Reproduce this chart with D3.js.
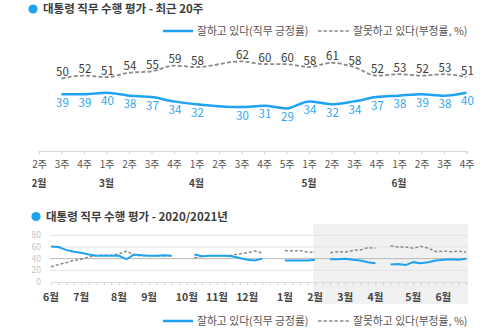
<!DOCTYPE html>
<html>
<head>
<meta charset="utf-8">
<script src="https://cdn.jsdelivr.net/npm/d3@7/dist/d3.min.js"></script>
<style>
  html, body { margin: 0; padding: 0; background: #fff; }
  svg { display: block; font-family: "Noto Sans CJK KR", "Noto Sans", sans-serif; }
</style>
</head>
<body>
<svg id="chart" width="500" height="333"></svg>
<script>
// ---- Recent 20 weeks (weekly) ----
const recentWeeks = ["2주","3주","4주","1주","2주","3주","4주","1주","2주","3주","4주","5주","1주","2주","3주","4주","1주","2주","3주","4주"];
const recentMonthLabels = ["2월","3월","4월","5월","6월"];
const recentMonthAt = [0, 3, 7, 12, 16];
const recentApprove = [null,39,39,40,38,37,34,32,null,30,31,29,34,32,34,37,38,39,38,40];
const recentDisapprove = [null,50,52,51,54,55,59,58,null,62,60,60,58,61,58,52,53,52,53,51];

// ---- 2020/2021 weekly series (null = no survey that week) ----
const yearApprove = [
  61,60,55,52,50,47,45,45,45,45,39,47,46,45,45,46,45,
  null,null,
  47,44,45,45,45,44,41,38,37,40,
  null,null,
  37,37,37,37,38,
  null,
  39,39,40,38,37,34,32,
  null,
  30,31,29,34,32,34,37,38,39,38,40
];
const yearDisapprove = [
  26,30,33,37,39,43,45,46,46,48,53,46,45,45,45,45,45,
  null,null,
  41,44,45,45,45,46,48,50,53,50,
  null,null,
  54,53,54,51,51,
  null,
  50,52,51,54,55,59,58,
  null,
  62,60,60,58,61,58,52,53,52,53,51
];
const yearMonthLabels = ["6월","7월","8월","9월","10월","11월","12월","1월","2월","3월","4월","5월","6월"];
const yearMonthAt = [0,4,9,13,18,22,26,31,35,39,43,48,52];
const yearTicks = [0,20,40,60,80];
const recentSpanStart = 35;

const titleTop = "대통령 직무 수행 평가 - 최근 20주";
const titleBottom = "대통령 직무 수행 평가 - 2020/2021년";
const legendApprove = "잘하고 있다(직무 긍정률)";
const legendDisapprove = "잘못하고 있다(부정률, %)";

const BLUE = "#1ea2f1";
const GREY = "#8a8a8a";
const TEXT = "#3c3c3c";

const svg = d3.select("#chart");

// Title with a round bullet
function title(x, y, text) {
  svg.append("circle").attr("cx", x).attr("cy", y).attr("r", 4.6).attr("fill", BLUE);
  svg.append("text").attr("x", x + 10).attr("y", y + 4.2)
    .attr("font-size", 11.5).attr("font-weight", 700).attr("fill", TEXT).text(text);
}

// Legend row: solid blue key, dashed grey key
function legend(y) {
  svg.append("line").attr("x1", 163).attr("x2", 193).attr("y1", y).attr("y2", y)
    .attr("stroke", BLUE).attr("stroke-width", 2.5);
  svg.append("text").attr("x", 197).attr("y", y + 4).attr("font-size", 10.8)
    .attr("fill", "#555").text(legendApprove);
  svg.append("line").attr("x1", 318).attr("x2", 350).attr("y1", y).attr("y2", y)
    .attr("stroke", GREY).attr("stroke-width", 1.6).attr("stroke-dasharray", "3.5,2");
  svg.append("text").attr("x", 353).attr("y", y + 4).attr("font-size", 10.8)
    .attr("fill", "#555").text(legendDisapprove);
}

// ================= Top chart =================
title(33, 9, titleTop);
legend(31);

const xTop = d3.scalePoint().domain(d3.range(recentWeeks.length)).range([39, 466.5]);
const yTop = d3.scaleLinear().domain([0, 100]).range([150, 7]);

const axisTop = svg.append("g").attr("transform", "translate(0,151)");
axisTop.call(d3.axisBottom(xTop).tickSize(3).tickFormat(i => recentWeeks[i]));
axisTop.select(".domain").attr("stroke", "#d8d8d8");
axisTop.selectAll(".tick line").attr("stroke", "#d0d0d0");
axisTop.selectAll(".tick text").attr("font-size", 10).attr("fill", "#555")
  .attr("font-family", "Noto Sans CJK KR").attr("dy", "1.05em");

svg.append("g").selectAll("text").data(recentMonthLabels).join("text")
  .attr("x", (d, k) => xTop(recentMonthAt[k]))
  .attr("y", 187).attr("text-anchor", "middle")
  .attr("font-size", 10).attr("font-weight", 700).attr("fill", "#444")
  .text(d => d);

const topLine = d3.line()
  .x(d => xTop(d.i)).y(d => yTop(d.v))
  .curve(d3.curveMonotoneX);

const recentPos = recentApprove.map((v, i) => ({ i, v })).filter(d => d.v != null);
const recentNeg = recentDisapprove.map((v, i) => ({ i, v })).filter(d => d.v != null);

svg.append("path").datum(recentNeg).attr("d", topLine)
  .attr("fill", "none").attr("stroke", GREY).attr("stroke-width", 1.8)
  .attr("stroke-dasharray", "4,2.2");
svg.append("path").datum(recentPos).attr("d", topLine)
  .attr("fill", "none").attr("stroke", BLUE).attr("stroke-width", 2.5);

svg.append("g").selectAll("text").data(recentNeg).join("text")
  .attr("x", d => xTop(d.i) + 1).attr("y", d => yTop(d.v) - 2.5)
  .attr("text-anchor", "middle").attr("font-size", 11.5).attr("fill", "#3a3a3a")
  .text(d => d.v);
svg.append("g").selectAll("text").data(recentPos).join("text")
  .attr("x", d => xTop(d.i) + 1).attr("y", d => yTop(d.v) + 12.5)
  .attr("text-anchor", "middle").attr("font-size", 11.5).attr("fill", "#32a6f0")
  .text(d => d.v);

// ================= Bottom chart =================
title(36, 216.5, titleBottom);

const xYear = d3.scaleLinear().domain([0, yearApprove.length - 1]).range([51, 466]);
const yYear = d3.scaleLinear().domain([0, 80]).range([282, 235.3]);

// recent-period shading
svg.append("rect")
  .attr("x", xYear(recentSpanStart) - 2).attr("y", 224)
  .attr("width", xYear(yearApprove.length - 1) + 2 - (xYear(recentSpanStart) - 2))
  .attr("height", 80).attr("fill", "#f1f1f1");

// grid
svg.append("g").selectAll("line").data(yearTicks.filter(t => t > 0)).join("line")
  .attr("x1", 50).attr("x2", 468)
  .attr("y1", d => yYear(d)).attr("y2", d => yYear(d))
  .attr("stroke", d => d === 40 ? "#b9b9b9" : "#e3e3e3").attr("stroke-width", 1);

svg.append("g").selectAll("text").data(yearTicks).join("text")
  .attr("x", 41).attr("y", d => yYear(d) + 3).attr("text-anchor", "end")
  .attr("font-size", 8.5).attr("fill", "#c4c4c4").text(d => d);

// weekly tick axis
const axisYear = svg.append("g").attr("transform", "translate(0,282)");
axisYear.call(d3.axisBottom(xYear).tickValues(d3.range(yearApprove.length)).tickSize(3).tickFormat(""));
axisYear.select(".domain").attr("stroke", "#dedede");
axisYear.selectAll(".tick line").attr("stroke", "#d0d0d0");

svg.append("g").selectAll("text").data(yearMonthLabels).join("text")
  .attr("x", (d, k) => xYear(yearMonthAt[k]))
  .attr("y", 301).attr("text-anchor", "middle")
  .attr("font-size", 10.5).attr("font-weight", 700).attr("fill", "#444")
  .text(d => d);

const yearLine = d3.line()
  .defined(d => d.v != null)
  .x(d => xYear(d.i)).y(d => yYear(d.v));

svg.append("path").datum(yearDisapprove.map((v, i) => ({ i, v }))).attr("d", yearLine)
  .attr("fill", "none").attr("stroke", GREY).attr("stroke-width", 1.5)
  .attr("stroke-dasharray", "3,2");
svg.append("path").datum(yearApprove.map((v, i) => ({ i, v }))).attr("d", yearLine)
  .attr("fill", "none").attr("stroke", BLUE).attr("stroke-width", 2);

legend(321);
</script>
</body>
</html>
